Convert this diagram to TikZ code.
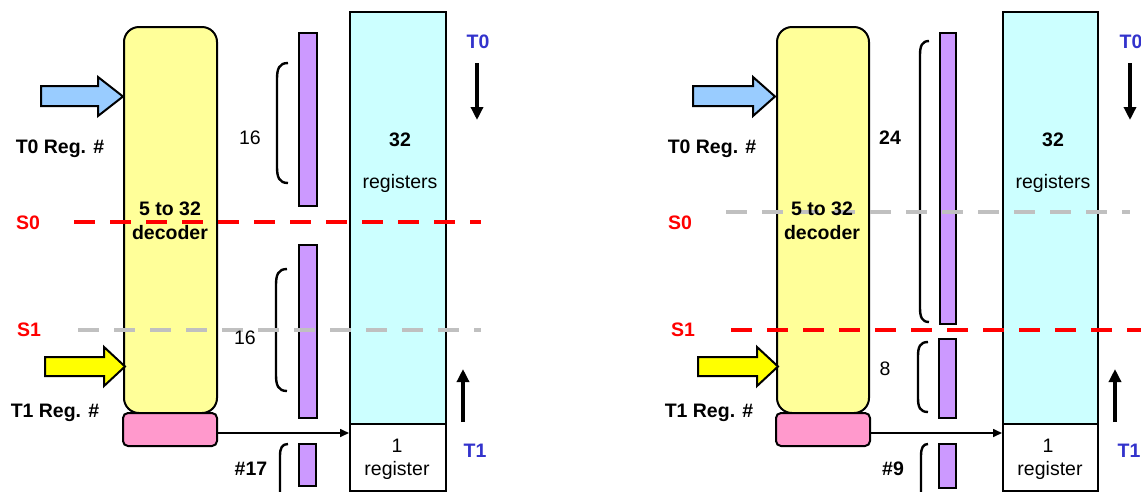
\documentclass[tikz,border=0pt]{standalone}
\usepackage{fontspec}
\setmainfont{Liberation Sans}
\usetikzlibrary{arrows.meta}
\definecolor{decfill}{HTML}{FFFF99}
\definecolor{regfill}{HTML}{CCFFFF}
\definecolor{barfill}{HTML}{CC99FF}
\definecolor{pinkfill}{HTML}{FF99CC}
\definecolor{bluearrow}{HTML}{99CCFF}
\definecolor{yellowarrow}{HTML}{FFFF00}
\definecolor{tblue}{HTML}{3333CC}
\definecolor{sred}{HTML}{FF0000}
\definecolor{sgray}{HTML}{C0C0C0}
\begin{document}
\begin{tikzpicture}[x=1pt,y=-1pt,
  box/.style={draw,line width=2pt,inner sep=0pt,anchor=north west},
  lbl/.style={inner sep=0pt,text height=14pt,text depth=0pt,font=\fontsize{19.5}{22}\selectfont},
  blbl/.style={lbl,font=\fontsize{19.5}{22}\selectfont\bfseries},
  tlbl/.style={blbl,text=tblue},
  slbl/.style={blbl,text=sred},
  bracket/.style={draw,line width=2.4pt},
  blockarrow/.style={draw,line width=2pt,line join=miter},
  stage/.style={line width=4.5pt,dash pattern=on 21pt off 15pt},
  flow/.style={line width=3.5pt,-{Triangle[length=13pt,width=12pt]}},
  link/.style={line width=1.6pt,-{Triangle[length=9pt,width=8pt]}}]
\useasboundingbox (0,0) rectangle (1141,491);

% ---------------- left panel ----------------
\node[box,fill=decfill,rounded corners=15pt,minimum width=93pt,minimum height=386pt] (decL) at (123,26) {};
\node[box,fill=pinkfill,rounded corners=5pt,minimum width=94pt,minimum height=33pt] (pinkL) at (122,412) {};
\node[box,fill=regfill,minimum width=96pt,minimum height=412pt] (regL) at (349,11) {};
\node[box,fill=white,minimum width=96pt,minimum height=67pt] (oneL) at (349,423) {};
\node[box,fill=barfill,minimum width=18pt,minimum height=173pt] (barLa) at (298,32) {};
\node[box,fill=barfill,minimum width=18pt,minimum height=173pt] (barLb) at (298,244) {};
\node[box,fill=barfill,minimum width=17pt,minimum height=42pt] (barLc) at (298,443) {};

\draw[bracket] (288,63) .. controls (279,63) and (277,69) .. (277,79) -- (277,167) .. controls (277,177) and (279,183) .. (288,183);
\draw[bracket] (287,269) .. controls (278,269) and (276,275) .. (276,285) -- (276,375) .. controls (276,385) and (278,391) .. (287,391);
\draw[bracket] (288,444) .. controls (282,444) and (280,448) .. (280,456) -- (280,500);

\draw[blockarrow,fill=bluearrow] (41,86) -- (98,86) -- (98,77) -- (123,96.5) -- (98,116) -- (98,106) -- (41,106) -- cycle;
\draw[blockarrow,fill=yellowarrow] (45,357) -- (104,357) -- (104,347) -- (125,366.5) -- (104,386) -- (104,376) -- (45,376) -- cycle;

\draw[stage,sred] (74,222) -- (481,222);
\draw[stage,sgray] (78,330) -- (481,330);

\node[blbl] (t0regL) at (60,146) {T0 Reg. \#};
\node[blbl] (t1regL) at (55,410) {T1 Reg. \#};
\node[blbl] (decLa) at (170,208) {5 to 32};
\node[blbl] (decLb) at (170,232) {decoder};
\node[slbl] (s0L) at (28,222) {S0};
\node[slbl] (s1L) at (29,329) {S1};
\node[lbl] (nLa) at (250,137) {16};
\node[lbl] (nLb) at (245,337) {16};
\node[blbl] (nLc) at (251,468) {\#17};
\node[blbl] (cntL) at (400,139) {32};
\node[lbl] (wrdL) at (400,181) {registers};
\node[lbl] (oneLa) at (397,445) {1};
\node[lbl] (oneLb) at (397,468) {register};
\node[tlbl] (t0L) at (478,41) {T0};
\node[tlbl] (t1L) at (475,450) {T1};
\coordinate (t0La) at (477,63);
\coordinate (t0Lb) at (477,120);
\coordinate (t1La) at (463,422);
\coordinate (t1Lb) at (463,369);
\draw[flow] (t0La) -- (t0Lb);
\draw[flow] (t1La) -- (t1Lb);
\draw[link] ([yshift=-3.5pt]pinkL.east) -- ([yshift=-3.5pt]pinkL.east -| oneL.west);

% ---------------- right panel ----------------
\node[box,fill=decfill,rounded corners=15pt,minimum width=92pt,minimum height=386pt] (decR) at (776,26) {};
\node[box,fill=pinkfill,rounded corners=5pt,minimum width=94pt,minimum height=33pt] (pinkR) at (775,412) {};
\node[box,fill=regfill,minimum width=95pt,minimum height=412pt] (regR) at (1002,11) {};
\node[box,fill=white,minimum width=95pt,minimum height=67pt] (oneR) at (1002,423) {};
\node[box,fill=barfill,minimum width=16pt,minimum height=291pt] (barRa) at (939,32) {};
\node[box,fill=barfill,minimum width=17pt,minimum height=79pt] (barRb) at (938,338) {};
\node[box,fill=barfill,minimum width=17pt,minimum height=44pt] (barRc) at (938,443) {};

\draw[bracket] (929,41) .. controls (922,41) and (920,46) .. (920,55) -- (920,308) .. controls (920,317) and (922,322) .. (929,322);
\draw[bracket] (928,342) .. controls (920,342) and (918,347) .. (918,356) -- (918,398) .. controls (918,407) and (920,412) .. (928,412);
\draw[bracket] (928,444) .. controls (923,444) and (921,448) .. (921,456) -- (921,500);

\draw[blockarrow,fill=bluearrow] (693,86) -- (753,86) -- (753,77) -- (775,96.5) -- (753,116) -- (753,106) -- (693,106) -- cycle;
\draw[blockarrow,fill=yellowarrow] (698,357) -- (757,357) -- (757,347) -- (778,366.5) -- (757,386) -- (757,376) -- (698,376) -- cycle;

\draw[stage,sgray] (726,212) -- (1130,212);
\draw[stage,sred] (731,330) -- (1141,330);

\node[blbl] (t0regR) at (712,146) {T0 Reg. \#};
\node[blbl] (t1regR) at (709,410) {T1 Reg. \#};
\node[blbl] (decRa) at (822,208) {5 to 32};
\node[blbl] (decRb) at (822,232) {decoder};
\node[slbl] (s0R) at (680,222) {S0};
\node[slbl] (s1R) at (683,329) {S1};
\node[blbl] (nRa) at (890,137) {24};
\node[lbl] (nRb) at (885,368) {8};
\node[blbl] (nRc) at (893,468) {\#9};
\node[blbl] (cntR) at (1053,139) {32};
\node[lbl] (wrdR) at (1053,181) {registers};
\node[lbl] (oneRa) at (1048,445) {1};
\node[lbl] (oneRb) at (1050,468) {register};
\node[tlbl] (t0R) at (1131,41) {T0};
\node[tlbl] (t1R) at (1129,450) {T1};
\coordinate (t0Ra) at (1130,63);
\coordinate (t0Rb) at (1130,120);
\coordinate (t1Ra) at (1115,422);
\coordinate (t1Rb) at (1115,369);
\draw[flow] (t0Ra) -- (t0Rb);
\draw[flow] (t1Ra) -- (t1Rb);
\draw[link] ([yshift=-3.5pt]pinkR.east) -- ([yshift=-3.5pt]pinkR.east -| oneR.west);
\end{tikzpicture}
\end{document}
